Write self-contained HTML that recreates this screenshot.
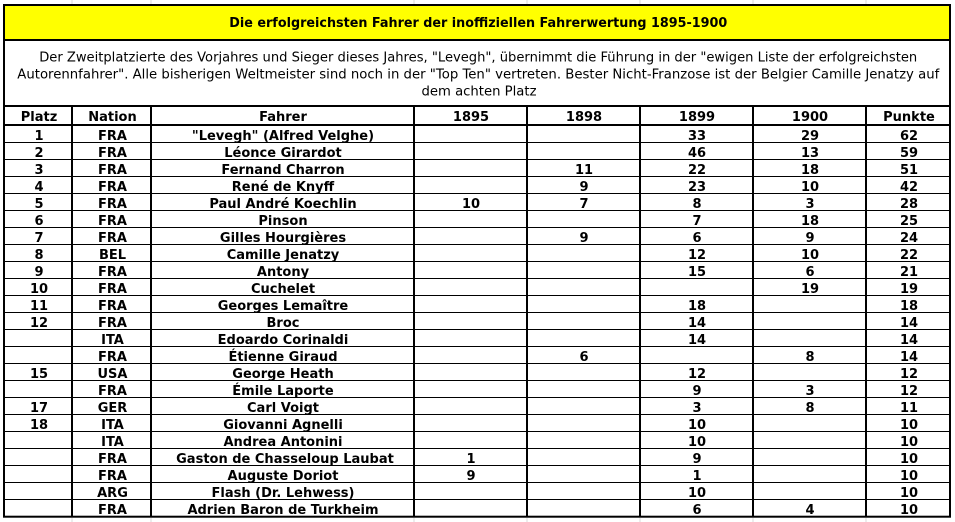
<!DOCTYPE html>
<html>
<head>
<meta charset="utf-8">
<style>
  html, body { margin:0; padding:0; background:#fff; }
  svg { display:block; }
  .b { font-family: "DejaVu Sans", "Liberation Sans", sans-serif; font-weight:bold; font-size:13px; fill:#000; }
  .r { font-family: "DejaVu Sans", "Liberation Sans", sans-serif; font-weight:normal; font-size:13.33px; fill:#000; }
</style>
</head>
<body>
<svg width="955" height="522" viewBox="0 0 955 522" xmlns="http://www.w3.org/2000/svg">
  <rect x="0" y="0" width="955" height="522" fill="#ffffff"/>

  <!-- faint excel gridlines outside -->
  <g stroke="#d9d9d9" stroke-width="1">
    <line x1="72" y1="0" x2="72" y2="4"/>
    <line x1="151" y1="0" x2="151" y2="4"/>
    <line x1="414" y1="0" x2="414" y2="4"/>
    <line x1="527" y1="0" x2="527" y2="4"/>
    <line x1="640" y1="0" x2="640" y2="4"/>
    <line x1="753" y1="0" x2="753" y2="4"/>
    <line x1="866" y1="0" x2="866" y2="4"/>
    <line x1="72" y1="518" x2="72" y2="522"/>
    <line x1="151" y1="518" x2="151" y2="522"/>
    <line x1="414" y1="518" x2="414" y2="522"/>
    <line x1="527" y1="518" x2="527" y2="522"/>
    <line x1="640" y1="518" x2="640" y2="522"/>
    <line x1="753" y1="518" x2="753" y2="522"/>
    <line x1="866" y1="518" x2="866" y2="522"/>
  </g>

  <!-- yellow title band -->
  <rect x="5" y="6" width="944" height="33" fill="#ffff00"/>

  <!-- row lines -->
  <g stroke="#000" stroke-width="1">
    <line x1="4" y1="142.5" x2="950" y2="142.5"/>
    <line x1="4" y1="159.5" x2="950" y2="159.5"/>
    <line x1="4" y1="176.5" x2="950" y2="176.5"/>
    <line x1="4" y1="193.5" x2="950" y2="193.5"/>
    <line x1="4" y1="210.5" x2="950" y2="210.5"/>
    <line x1="4" y1="227.5" x2="950" y2="227.5"/>
    <line x1="4" y1="244.5" x2="950" y2="244.5"/>
    <line x1="4" y1="261.5" x2="950" y2="261.5"/>
    <line x1="4" y1="278.5" x2="950" y2="278.5"/>
    <line x1="4" y1="295.5" x2="950" y2="295.5"/>
    <line x1="4" y1="312.5" x2="950" y2="312.5"/>
    <line x1="4" y1="329.5" x2="950" y2="329.5"/>
    <line x1="4" y1="346.5" x2="950" y2="346.5"/>
    <line x1="4" y1="363.5" x2="950" y2="363.5"/>
    <line x1="4" y1="380.5" x2="950" y2="380.5"/>
    <line x1="4" y1="397.5" x2="950" y2="397.5"/>
    <line x1="4" y1="414.5" x2="950" y2="414.5"/>
    <line x1="4" y1="431.5" x2="950" y2="431.5"/>
    <line x1="4" y1="448.5" x2="950" y2="448.5"/>
    <line x1="4" y1="465.5" x2="950" y2="465.5"/>
    <line x1="4" y1="482.5" x2="950" y2="482.5"/>
    <line x1="4" y1="499.5" x2="950" y2="499.5"/>
  </g>

  <!-- thick lines -->
  <g stroke="#000" stroke-width="2" fill="none">
    <line x1="4" y1="40" x2="950" y2="40"/>
    <line x1="4" y1="106" x2="950" y2="106"/>
    <line x1="4" y1="125" x2="950" y2="125"/>
    <line x1="72" y1="106" x2="72" y2="517"/>
    <line x1="151" y1="106" x2="151" y2="517"/>
    <line x1="414" y1="106" x2="414" y2="517"/>
    <line x1="527" y1="106" x2="527" y2="517"/>
    <line x1="640" y1="106" x2="640" y2="517"/>
    <line x1="753" y1="106" x2="753" y2="517"/>
    <line x1="866" y1="106" x2="866" y2="517"/>
    <rect x="4" y="5" width="946" height="511.7"/>
  </g>

  <!-- title -->
  <text class="b" x="478.3" y="27" text-anchor="middle" textLength="498" lengthAdjust="spacingAndGlyphs" style="font-size:13.33px">Die erfolgreichsten Fahrer der inoffiziellen Fahrerwertung 1895-1900</text>

  <!-- description -->
  <text class="r" x="478.2" y="61.7" text-anchor="middle" textLength="878" lengthAdjust="spacingAndGlyphs">Der Zweitplatzierte des Vorjahres und Sieger dieses Jahres, "Levegh", übernimmt die Führung in der "ewigen Liste der erfolgreichsten</text>
  <text class="r" x="478.3" y="78.5" text-anchor="middle" textLength="922" lengthAdjust="spacingAndGlyphs">Autorennfahrer". Alle bisherigen Weltmeister sind noch in der "Top Ten" vertreten. Bester Nicht-Franzose ist der Belgier Camille Jenatzy auf</text>
  <text class="r" x="479" y="95.5" text-anchor="middle" textLength="115" lengthAdjust="spacingAndGlyphs">dem achten Platz</text>

  <!-- header -->
  <g class="b" text-anchor="middle">
    <text x="39" y="121">Platz</text>
    <text x="112.5" y="121">Nation</text>
    <text x="283" y="121">Fahrer</text>
    <text x="471" y="121">1895</text>
    <text x="584" y="121">1898</text>
    <text x="697" y="121">1899</text>
    <text x="810" y="121">1900</text>
    <text x="909" y="121">Punkte</text>
  </g>

  <!-- data rows; baseline = 123 + 17k -->
  <g class="b" text-anchor="middle">
    <!-- 1 -->
    <text x="39" y="140">1</text><text x="112.5" y="140">FRA</text><text x="283" y="140">"Levegh" (Alfred Velghe)</text>
    <text x="697" y="140">33</text><text x="810" y="140">29</text><text x="909" y="140">62</text>
    <!-- 2 -->
    <text x="39" y="157">2</text><text x="112.5" y="157">FRA</text><text x="283" y="157">Léonce Girardot</text>
    <text x="697" y="157">46</text><text x="810" y="157">13</text><text x="909" y="157">59</text>
    <!-- 3 -->
    <text x="39" y="174">3</text><text x="112.5" y="174">FRA</text><text x="283" y="174">Fernand Charron</text>
    <text x="584" y="174">11</text><text x="697" y="174">22</text><text x="810" y="174">18</text><text x="909" y="174">51</text>
    <!-- 4 -->
    <text x="39" y="191">4</text><text x="112.5" y="191">FRA</text><text x="283" y="191">René de Knyff</text>
    <text x="584" y="191">9</text><text x="697" y="191">23</text><text x="810" y="191">10</text><text x="909" y="191">42</text>
    <!-- 5 -->
    <text x="39" y="208">5</text><text x="112.5" y="208">FRA</text><text x="283" y="208">Paul André Koechlin</text>
    <text x="471" y="208">10</text><text x="584" y="208">7</text><text x="697" y="208">8</text><text x="810" y="208">3</text><text x="909" y="208">28</text>
    <!-- 6 -->
    <text x="39" y="225">6</text><text x="112.5" y="225">FRA</text><text x="283" y="225">Pinson</text>
    <text x="697" y="225">7</text><text x="810" y="225">18</text><text x="909" y="225">25</text>
    <!-- 7 -->
    <text x="39" y="242">7</text><text x="112.5" y="242">FRA</text><text x="283" y="242">Gilles Hourgières</text>
    <text x="584" y="242">9</text><text x="697" y="242">6</text><text x="810" y="242">9</text><text x="909" y="242">24</text>
    <!-- 8 -->
    <text x="39" y="259">8</text><text x="112.5" y="259">BEL</text><text x="283" y="259">Camille Jenatzy</text>
    <text x="697" y="259">12</text><text x="810" y="259">10</text><text x="909" y="259">22</text>
    <!-- 9 -->
    <text x="39" y="276">9</text><text x="112.5" y="276">FRA</text><text x="283" y="276">Antony</text>
    <text x="697" y="276">15</text><text x="810" y="276">6</text><text x="909" y="276">21</text>
    <!-- 10 -->
    <text x="39" y="293">10</text><text x="112.5" y="293">FRA</text><text x="283" y="293">Cuchelet</text>
    <text x="810" y="293">19</text><text x="909" y="293">19</text>
    <!-- 11 -->
    <text x="39" y="310">11</text><text x="112.5" y="310">FRA</text><text x="283" y="310">Georges Lemaître</text>
    <text x="697" y="310">18</text><text x="909" y="310">18</text>
    <!-- 12 -->
    <text x="39" y="327">12</text><text x="112.5" y="327">FRA</text><text x="283" y="327">Broc</text>
    <text x="697" y="327">14</text><text x="909" y="327">14</text>
    <!-- 13 -->
    <text x="112.5" y="344">ITA</text><text x="283" y="344">Edoardo Corinaldi</text>
    <text x="697" y="344">14</text><text x="909" y="344">14</text>
    <!-- 14 -->
    <text x="112.5" y="361">FRA</text><text x="283" y="361">Étienne Giraud</text>
    <text x="584" y="361">6</text><text x="810" y="361">8</text><text x="909" y="361">14</text>
    <!-- 15 -->
    <text x="39" y="378">15</text><text x="112.5" y="378">USA</text><text x="283" y="378">George Heath</text>
    <text x="697" y="378">12</text><text x="909" y="378">12</text>
    <!-- 16 -->
    <text x="112.5" y="395">FRA</text><text x="283" y="395">Émile Laporte</text>
    <text x="697" y="395">9</text><text x="810" y="395">3</text><text x="909" y="395">12</text>
    <!-- 17 -->
    <text x="39" y="412">17</text><text x="112.5" y="412">GER</text><text x="283" y="412">Carl Voigt</text>
    <text x="697" y="412">3</text><text x="810" y="412">8</text><text x="909" y="412">11</text>
    <!-- 18 -->
    <text x="39" y="429">18</text><text x="112.5" y="429">ITA</text><text x="283" y="429">Giovanni Agnelli</text>
    <text x="697" y="429">10</text><text x="909" y="429">10</text>
    <!-- 19 -->
    <text x="112.5" y="446">ITA</text><text x="283" y="446">Andrea Antonini</text>
    <text x="697" y="446">10</text><text x="909" y="446">10</text>
    <!-- 20 -->
    <text x="112.5" y="463">FRA</text><text x="285" y="463">Gaston de Chasseloup Laubat</text>
    <text x="471" y="463">1</text><text x="697" y="463">9</text><text x="909" y="463">10</text>
    <!-- 21 -->
    <text x="112.5" y="480">FRA</text><text x="283" y="480">Auguste Doriot</text>
    <text x="471" y="480">9</text><text x="697" y="480">1</text><text x="909" y="480">10</text>
    <!-- 22 -->
    <text x="112.5" y="497">ARG</text><text x="283" y="497">Flash (Dr. Lehwess)</text>
    <text x="697" y="497">10</text><text x="909" y="497">10</text>
    <!-- 23 -->
    <text x="112.5" y="514">FRA</text><text x="283" y="514">Adrien Baron de Turkheim</text>
    <text x="697" y="514">6</text><text x="810" y="514">4</text><text x="909" y="514">10</text>
  </g>
</svg>
</body>
</html>
